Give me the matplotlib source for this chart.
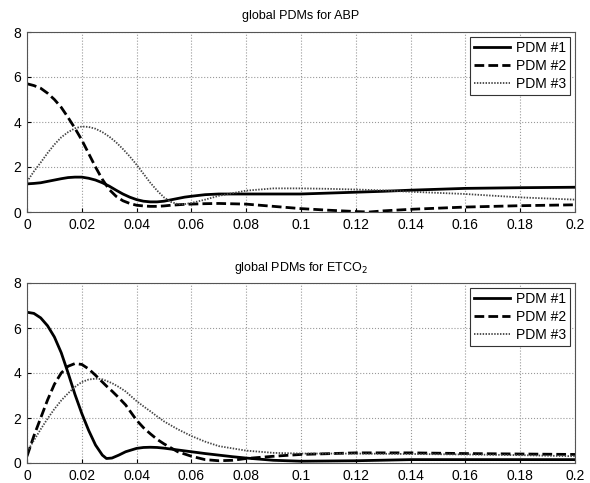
import matplotlib
matplotlib.use("Agg")
import matplotlib.pyplot as plt

plt.rcParams['font.family'] = ['Liberation Sans', 'DejaVu Sans']

# ABP
abp_t = [0, 0.0025, 0.005, 0.0075, 0.01, 0.0125, 0.015, 0.0175, 0.02, 0.0225, 0.025, 0.0275,
         0.03, 0.0325, 0.035, 0.0375, 0.04, 0.0425, 0.045, 0.0475, 0.05, 0.0525, 0.055, 0.0575,
         0.06, 0.065, 0.07, 0.08, 0.09, 0.1, 0.11, 0.12, 0.125, 0.13, 0.14, 0.16, 0.18, 0.2]
abp_pdm1 = [1.25, 1.27, 1.3, 1.36, 1.42, 1.48, 1.53, 1.55, 1.55, 1.5, 1.42, 1.3,
            1.15, 0.97, 0.8, 0.66, 0.55, 0.48, 0.45, 0.45, 0.48, 0.54, 0.6, 0.66,
            0.7, 0.77, 0.8, 0.8, 0.8, 0.8, 0.84, 0.88, 0.9, 0.92, 0.97, 1.05, 1.08, 1.1]
abp_pdm2 = [5.7, 5.62, 5.5, 5.28, 5.0, 4.65, 4.2, 3.72, 3.2, 2.6, 2.0, 1.45,
            1.0, 0.7, 0.5, 0.38, 0.3, 0.27, 0.25, 0.25, 0.27, 0.3, 0.32, 0.34,
            0.35, 0.37, 0.38, 0.35, 0.25, 0.15, 0.08, 0.02, 0.0, 0.05, 0.12, 0.22, 0.28, 0.32]
abp_pdm3 = [1.35, 1.8, 2.2, 2.62, 3.0, 3.32, 3.55, 3.72, 3.8, 3.78, 3.7, 3.55,
            3.35, 3.1, 2.8, 2.47, 2.1, 1.7, 1.3, 0.95, 0.65, 0.45, 0.35, 0.35,
            0.4, 0.55, 0.72, 0.95, 1.05, 1.05, 1.03, 1.0, 0.98, 0.96, 0.9, 0.8, 0.65, 0.55]

# ETCO2
et_t = [0, 0.0025, 0.005, 0.0075, 0.01, 0.0125, 0.015, 0.0175, 0.02, 0.0225, 0.025, 0.0275,
        0.029, 0.031, 0.0335, 0.036, 0.04, 0.0425, 0.045, 0.0475, 0.05,
        0.055, 0.06, 0.065, 0.07, 0.075, 0.08, 0.09, 0.1, 0.12, 0.14, 0.16, 0.18, 0.2]
et_pdm1 = [6.7, 6.65, 6.45, 6.1, 5.6, 4.9, 4.0, 3.05, 2.2, 1.45, 0.8, 0.35,
           0.2, 0.22, 0.35, 0.5, 0.65, 0.69, 0.7, 0.69, 0.66,
           0.58, 0.5, 0.42, 0.35, 0.28, 0.22, 0.12, 0.08, 0.1, 0.15, 0.15, 0.15, 0.15]
et_pdm2 = [0.3, 1.2, 2.0, 2.8, 3.5, 4.0, 4.3, 4.42, 4.38, 4.18, 3.9, 3.6,
           3.42, 3.2, 2.9, 2.58, 1.9, 1.57, 1.3, 1.05, 0.85,
           0.5, 0.3, 0.15, 0.1, 0.12, 0.2, 0.3, 0.38, 0.45, 0.45, 0.42, 0.4, 0.38]
et_pdm3 = [0.5, 1.0, 1.5, 1.97, 2.4, 2.78, 3.1, 3.38, 3.6, 3.71, 3.75, 3.72,
           3.65, 3.55, 3.38, 3.18, 2.75, 2.52, 2.3, 2.07, 1.85,
           1.5, 1.2, 0.95, 0.75, 0.65, 0.55, 0.45, 0.42, 0.42, 0.4, 0.38, 0.35, 0.3]

labels = ['PDM #1', 'PDM #2', 'PDM #3']
xticks = [0, 0.02, 0.04, 0.06, 0.08, 0.1, 0.12, 0.14, 0.16, 0.18, 0.2]
xticklabels = ['0', '0.02', '0.04', '0.06', '0.08', '0.1', '0.12', '0.14', '0.16', '0.18', '0.2']
yticks = [0, 2, 4, 6, 8]

fig = plt.figure(figsize=(5.9, 4.83), dpi=100)
ax1 = fig.add_axes([27/590, 1-212/483, 548/590, 180/483])
ax2 = fig.add_axes([27/590, 1-463/483, 548/590, 180/483])

def draw(ax, t, s1, s2, s3, title):
    ax.plot(t, s1, color='black', lw=2.0, ls='-', label=labels[0])
    ax.plot(t, s2, color='black', lw=2.0, ls=(0, (3.5, 1.5)), label=labels[1])
    ax.plot(t, s3, color='#444444', lw=1.3, ls=(0, (0.8, 0.8)), label=labels[2])
    ax.set_xlim(0, 0.2)
    ax.set_ylim(0, 8)
    ax.set_xticks(xticks)
    ax.set_xticklabels(xticklabels)
    ax.set_yticks(yticks)
    ax.grid(True, color='#999999', ls=':', lw=0.8)
    ax.tick_params(direction='in', labelsize=10, length=3, pad=4)
    for sp in ax.spines.values():
        sp.set_color('#555555')
        sp.set_linewidth(0.8)
    ax.set_title(title, fontsize=9, pad=9)
    leg = ax.legend(loc='upper right', fontsize=10, fancybox=False, framealpha=1,
                    edgecolor='#333333', handlelength=2.6, borderpad=0.3,
                    labelspacing=0.28, handletextpad=0.4, borderaxespad=0.35)
    leg.get_frame().set_linewidth(0.8)

draw(ax1, abp_t, abp_pdm1, abp_pdm2, abp_pdm3, 'global PDMs for ABP')
draw(ax2, et_t, et_pdm1, et_pdm2, et_pdm3, 'global PDMs for ETCO$_2$')

fig.savefig('out.png', dpi=100)
